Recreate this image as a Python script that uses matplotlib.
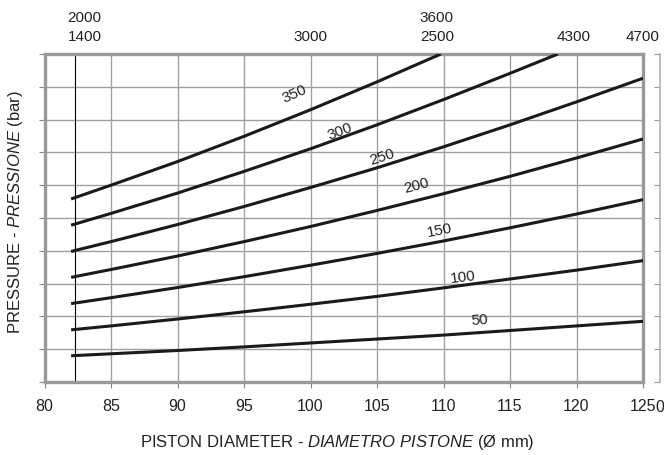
import matplotlib.pyplot as plt
from matplotlib.transforms import blended_transform_factory

# piston diameter (mm) where the curves were read
diam = [82, 85, 90, 95, 100, 105, 110, 115, 120, 125]

# curve values (grid units, 0..10), one list per pressure
p50 = [0.80, 0.86, 0.96, 1.07, 1.19, 1.31, 1.43, 1.57, 1.71, 1.85]
p100 = [1.59, 1.71, 1.92, 2.14, 2.37, 2.61, 2.87, 3.14, 3.41, 3.70]
p150 = [2.39, 2.57, 2.88, 3.21, 3.56, 3.92, 4.30, 4.70, 5.12, 5.56]
p200 = [3.19, 3.43, 3.84, 4.28, 4.74, 5.23, 5.74, 6.27, 6.83, 7.41]
p250 = [3.98, 4.28, 4.80, 5.35, 5.93, 6.53, 7.17, 7.84, 8.54, 9.26]
# these two leave the top of the chart
diam300 = [82, 85, 90, 95, 100, 105, 110, 115, 118.6]
p300 = [4.78, 5.14, 5.76, 6.42, 7.11, 7.84, 8.61, 9.41, 10.0]
diam350 = [82, 85, 90, 95, 100, 105, 109.8]
p350 = [5.58, 6.00, 6.72, 7.49, 8.30, 9.15, 10.0]

curve_labels = ['50', '100', '150', '200', '250', '300', '350']
label_pos = [(112.7, 1.87), (111.5, 3.18), (109.7, 4.61), (108.0, 5.97),
             (105.4, 6.86), (102.2, 7.62), (98.8, 8.78)]
label_rot = [4, 7, 11, 15, 18, 21, 24]

# force values printed above the chart
top_x = [83.0, 100.0, 109.5, 119.8, 125.0]
top_row1 = ['1400', '3000', '2500', '4300', '4700']
top_x2 = [83.0, 109.5]
top_row2 = ['2000', '3600']

xticks = [80, 85, 90, 95, 100, 105, 110, 115, 120, 125]

plt.rcParams['font.family'] = ['Liberation Sans', 'DejaVu Sans']
plt.rcParams['mathtext.fontset'] = 'custom'
plt.rcParams['mathtext.rm'] = 'Liberation Sans'
plt.rcParams['mathtext.it'] = 'Liberation Sans:italic'

fig = plt.figure(figsize=(6.64, 4.55), dpi=100)
ax = fig.add_axes([44.5 / 664, 1 - 382 / 455, (643 - 44.5) / 664, (382 - 54) / 455])

ax.set_xlim(80, 125)
ax.set_ylim(0, 10)

grid_c = '#a0a0a0'
for x in xticks[1:-1]:
    ax.axvline(x, color=grid_c, lw=1.0, zorder=1)
for y in range(1, 10):
    ax.axhline(y, color=grid_c, lw=1.0, zorder=1)
ax.axvline(82.3, color='black', lw=0.8, zorder=2)

series = [(diam, p50), (diam, p100), (diam, p150), (diam, p200),
          (diam, p250), (diam300, p300), (diam350, p350)]
for xs, ys in series:
    ax.plot(xs, ys, color='#1a1a1a', lw=2.2, solid_capstyle='butt', zorder=3)

for lab, (lx, ly), rot in zip(curve_labels, label_pos, label_rot):
    ax.text(lx, ly, lab, fontsize=11, rotation=rot, ha='center', va='center',
            rotation_mode='anchor', color='#222222', zorder=4)

for s in ax.spines.values():
    s.set_color('#999999')
    s.set_linewidth(2.4)

ax.set_xticks(xticks)
ax.set_xticklabels([str(t) for t in xticks], fontsize=11.5, color='#222222')
ax.set_yticks(range(0, 11))
ax.set_yticklabels([])
ax.tick_params(axis='both', direction='out', length=4, width=0.8, color='#888888')
ax.tick_params(axis='x', pad=8)

tr = blended_transform_factory(ax.transData, fig.transFigure)
for x, t in zip(top_x, top_row1):
    ax.text(x, 1 - 37 / 455, t, transform=tr, ha='center', va='center', fontsize=11, color='#222222')
for x, t in zip(top_x2, top_row2):
    ax.text(x, 1 - 18 / 455, t, transform=tr, ha='center', va='center', fontsize=11, color='#222222')

# edge of the neighbouring chart
ax2 = fig.add_axes([660 / 664, 1 - 382 / 455, 0.0001, (382 - 54) / 455])
ax2.set_ylim(0, 10)
ax2.set_yticks(range(0, 11))
ax2.set_yticklabels([])
ax2.set_xticks([])
for k in ['top', 'right', 'bottom']:
    ax2.spines[k].set_visible(False)
ax2.spines['left'].set_color('#b0b0b0')
ax2.spines['left'].set_linewidth(1.2)
ax2.tick_params(axis='y', direction='out', length=4, width=0.8, color='#999999')
fig.text(660 / 664, 1 - 408 / 455, '0', ha='center', va='center', fontsize=11.5, color='#222222')

fig.text(337 / 664, 1 - 442 / 455, 'PISTON DIAMETER - $\\it{DIAMETRO\\ PISTONE}$ (Ø mm)',
         ha='center', va='center', fontsize=12, color='#222222')
fig.text(16 / 664, 1 - 212 / 455, 'PRESSURE - $\\it{PRESSIONE}$ (bar)', rotation=90,
         ha='center', va='center', fontsize=12, color='#222222')

fig.savefig('out.png', dpi=100)
